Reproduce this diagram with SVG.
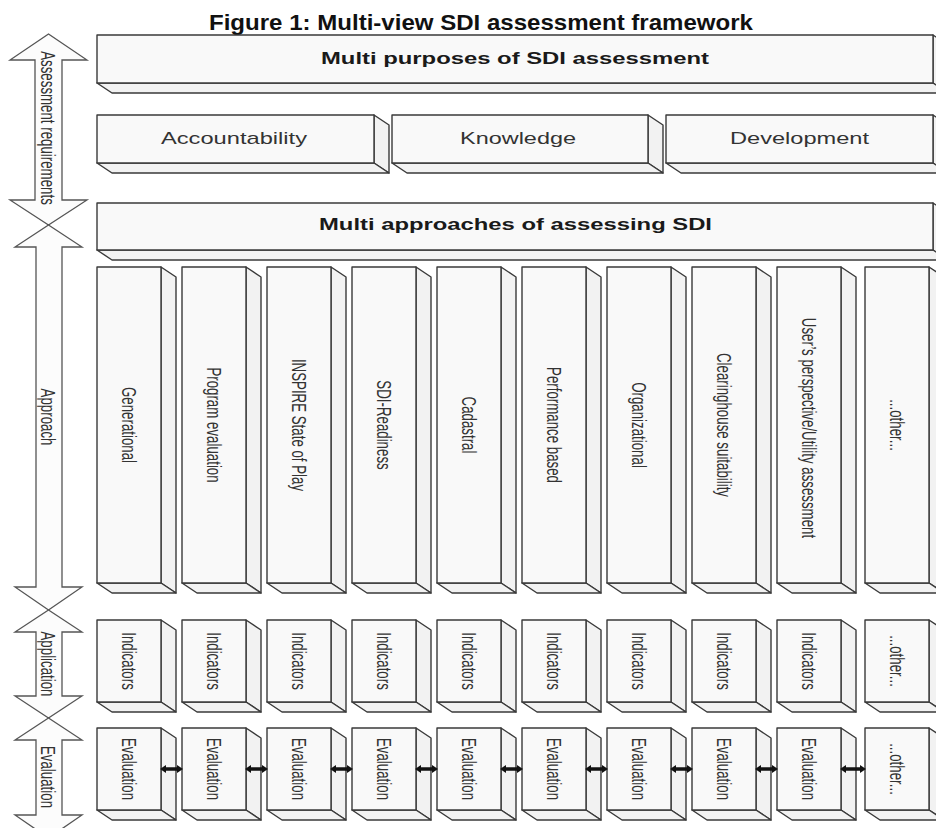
<svg xmlns="http://www.w3.org/2000/svg" xmlns:xlink="http://www.w3.org/1999/xlink" width="936" height="828" viewBox="0 0 936 828">
<style>
.face{fill:#f9f9f9;stroke:#3a3a3a;stroke-width:1.4;stroke-linejoin:round}
.side{fill:#f2f2f2;stroke:#3a3a3a;stroke-width:1.4;stroke-linejoin:round}
.arr{fill:#fcfcfc;stroke:#555;stroke-width:1.3;stroke-linejoin:miter}
.lbl{font-family:"Liberation Sans",Arial,sans-serif;font-size:20px;fill:#333;text-anchor:middle}
.row{font-family:"Liberation Sans",Arial,sans-serif;font-size:17px;fill:#333}
.hdr{font-family:"Liberation Sans",Arial,sans-serif;font-size:16px;font-weight:bold;fill:#1a1a1a}
.title{font-family:"Liberation Sans",Arial,sans-serif;font-size:22px;font-weight:bold;fill:#111}
.conn{stroke:#111;stroke-width:3.5;fill:none}
</style>
<defs>
<marker id="ah" viewBox="0 0 6 8" refX="0" refY="4" markerWidth="6" markerHeight="8" markerUnits="userSpaceOnUse" orient="auto-start-reverse"><path d="M0,0 L6,4 L0,8 z" fill="#111"/></marker>
<g id="colTall">
<polygon class="side" points="64,0 79,10 79,326 64,316"/>
<polygon class="side" points="0,316 64,316 79,326 15,326"/>
<rect class="face" x="0" y="0" width="64" height="316"/>
</g>
<g id="colShort">
<polygon class="side" points="64,0 79,10 79,92 64,82"/>
<polygon class="side" points="0,82 64,82 79,92 15,92"/>
<rect class="face" x="0" y="0" width="64" height="82"/>
</g>
</defs>
<rect width="936" height="828" fill="#ffffff"/>

<text class="title" x="209" y="30" textLength="544" lengthAdjust="spacingAndGlyphs">Figure 1: Multi-view SDI assessment framework</text>

<!-- left double arrows -->
<g id="arrow-requirements">
<polygon class="arr" points="48.5,34 87,60 62,60 62,200 87,200 48.5,225 10,200 35,200 35,60 10,60"/>
<text class="lbl" transform="translate(41,128) rotate(90) scale(0.665,1)">Assessment requirements</text>
</g>
<g id="arrow-approach">
<polygon class="arr" points="48.5,225 82,247 62,247 62,587 82,587 48.5,610 15,587 36,587 36,247 15,247"/>
<text class="lbl" transform="translate(41,417) rotate(90) scale(0.665,1)">Approach</text>
</g>
<g id="arrow-application">
<polygon class="arr" points="48.5,610 82,632 62,632 62,696 82,696 48.5,718 15,696 36,696 36,632 15,632"/>
<text class="lbl" transform="translate(41,664) rotate(90) scale(0.665,1)">Application</text>
</g>
<g id="arrow-evaluation">
<polygon class="arr" points="48.5,718 82,740 62,740 62,815 82,815 48.5,838 15,815 36,815 36,740 15,740"/>
<text class="lbl" transform="translate(41,777) rotate(90) scale(0.665,1)">Evaluation</text>
</g>

<!-- wide boxes -->
<g id="purposes">
<polygon class="side" points="933,35 948,45 948,93 933,83"/>
<polygon class="side" points="97,83 933,83 948,93 112,93"/>
<rect class="face" x="97" y="35" width="836" height="48"/>
<text class="hdr" x="321" y="64" textLength="388" lengthAdjust="spacingAndGlyphs">Multi purposes of SDI assessment</text>
</g>
<g id="accountability">
<polygon class="side" points="374,115 389,125 389,173 374,163"/>
<polygon class="side" points="97,163 374,163 389,173 112,173"/>
<rect class="face" x="97" y="115" width="277" height="48"/>
<text class="row" x="161" y="144" textLength="146" lengthAdjust="spacingAndGlyphs">Accountability</text>
</g>
<g id="knowledge">
<polygon class="side" points="648,115 663,125 663,173 648,163"/>
<polygon class="side" points="392,163 648,163 663,173 407,173"/>
<rect class="face" x="392" y="115" width="256" height="48"/>
<text class="row" x="460" y="144" textLength="116" lengthAdjust="spacingAndGlyphs">Knowledge</text>
</g>
<g id="development">
<polygon class="side" points="933,115 948,125 948,173 933,163"/>
<polygon class="side" points="666,163 933,163 948,173 681,173"/>
<rect class="face" x="666" y="115" width="267" height="48"/>
<text class="row" x="730" y="144" textLength="139" lengthAdjust="spacingAndGlyphs">Development</text>
</g>
<g id="approaches">
<polygon class="side" points="933,203 948,213 948,260 933,250"/>
<polygon class="side" points="97,250 933,250 948,260 112,260"/>
<rect class="face" x="97" y="203" width="836" height="47"/>
<text class="hdr" x="319" y="230" textLength="393" lengthAdjust="spacingAndGlyphs">Multi approaches of assessing SDI</text>
</g>

<!-- approach columns -->
<g id="ap-generational"><use xlink:href="#colTall" x="97" y="267"/><text class="lbl" transform="translate(122,425) rotate(90) scale(0.665,1)">Generational</text></g>
<g id="ap-program"><use xlink:href="#colTall" x="182" y="267"/><text class="lbl" transform="translate(207,425) rotate(90) scale(0.665,1)">Program evaluation</text></g>
<g id="ap-inspire"><use xlink:href="#colTall" x="267" y="267"/><text class="lbl" transform="translate(292,425) rotate(90) scale(0.665,1)">INSPIRE State of Play</text></g>
<g id="ap-readiness"><use xlink:href="#colTall" x="352" y="267"/><text class="lbl" transform="translate(377,425) rotate(90) scale(0.665,1)">SDI-Readiness</text></g>
<g id="ap-cadastral"><use xlink:href="#colTall" x="437" y="267"/><text class="lbl" transform="translate(462,425) rotate(90) scale(0.665,1)">Cadastral</text></g>
<g id="ap-performance"><use xlink:href="#colTall" x="522" y="267"/><text class="lbl" transform="translate(547,425) rotate(90) scale(0.665,1)">Performance based</text></g>
<g id="ap-organizational"><use xlink:href="#colTall" x="607" y="267"/><text class="lbl" transform="translate(632,425) rotate(90) scale(0.665,1)">Organizational</text></g>
<g id="ap-clearinghouse"><use xlink:href="#colTall" x="692" y="267"/><text class="lbl" transform="translate(717,425) rotate(90) scale(0.665,1)">Clearinghouse suitability</text></g>
<g id="ap-user"><use xlink:href="#colTall" x="777" y="267"/><text class="lbl" transform="translate(802,428) rotate(90) scale(0.665,1)">User’s perspective/Utility assessment</text></g>
<g id="ap-other"><use xlink:href="#colTall" x="865" y="267"/><text class="lbl" transform="translate(890,425) rotate(90) scale(0.665,1)">...other...</text></g>

<!-- indicators row -->
<g id="ind-1"><use xlink:href="#colShort" x="97" y="620"/><text class="lbl" transform="translate(122,661) rotate(90) scale(0.665,1)">Indicators</text></g>
<g id="ind-2"><use xlink:href="#colShort" x="182" y="620"/><text class="lbl" transform="translate(207,661) rotate(90) scale(0.665,1)">Indicators</text></g>
<g id="ind-3"><use xlink:href="#colShort" x="267" y="620"/><text class="lbl" transform="translate(292,661) rotate(90) scale(0.665,1)">Indicators</text></g>
<g id="ind-4"><use xlink:href="#colShort" x="352" y="620"/><text class="lbl" transform="translate(377,661) rotate(90) scale(0.665,1)">Indicators</text></g>
<g id="ind-5"><use xlink:href="#colShort" x="437" y="620"/><text class="lbl" transform="translate(462,661) rotate(90) scale(0.665,1)">Indicators</text></g>
<g id="ind-6"><use xlink:href="#colShort" x="522" y="620"/><text class="lbl" transform="translate(547,661) rotate(90) scale(0.665,1)">Indicators</text></g>
<g id="ind-7"><use xlink:href="#colShort" x="607" y="620"/><text class="lbl" transform="translate(632,661) rotate(90) scale(0.665,1)">Indicators</text></g>
<g id="ind-8"><use xlink:href="#colShort" x="692" y="620"/><text class="lbl" transform="translate(717,661) rotate(90) scale(0.665,1)">Indicators</text></g>
<g id="ind-9"><use xlink:href="#colShort" x="777" y="620"/><text class="lbl" transform="translate(802,661) rotate(90) scale(0.665,1)">Indicators</text></g>
<g id="ind-other"><use xlink:href="#colShort" x="865" y="620"/><text class="lbl" transform="translate(890,661) rotate(90) scale(0.665,1)">...other...</text></g>

<!-- evaluation row -->
<g id="eval-1"><use xlink:href="#colShort" x="97" y="728"/><text class="lbl" transform="translate(122,769) rotate(90) scale(0.665,1)">Evaluation</text></g>
<g id="eval-2"><use xlink:href="#colShort" x="182" y="728"/><text class="lbl" transform="translate(207,769) rotate(90) scale(0.665,1)">Evaluation</text></g>
<g id="eval-3"><use xlink:href="#colShort" x="267" y="728"/><text class="lbl" transform="translate(292,769) rotate(90) scale(0.665,1)">Evaluation</text></g>
<g id="eval-4"><use xlink:href="#colShort" x="352" y="728"/><text class="lbl" transform="translate(377,769) rotate(90) scale(0.665,1)">Evaluation</text></g>
<g id="eval-5"><use xlink:href="#colShort" x="437" y="728"/><text class="lbl" transform="translate(462,769) rotate(90) scale(0.665,1)">Evaluation</text></g>
<g id="eval-6"><use xlink:href="#colShort" x="522" y="728"/><text class="lbl" transform="translate(547,769) rotate(90) scale(0.665,1)">Evaluation</text></g>
<g id="eval-7"><use xlink:href="#colShort" x="607" y="728"/><text class="lbl" transform="translate(632,769) rotate(90) scale(0.665,1)">Evaluation</text></g>
<g id="eval-8"><use xlink:href="#colShort" x="692" y="728"/><text class="lbl" transform="translate(717,769) rotate(90) scale(0.665,1)">Evaluation</text></g>
<g id="eval-9"><use xlink:href="#colShort" x="777" y="728"/><text class="lbl" transform="translate(802,769) rotate(90) scale(0.665,1)">Evaluation</text></g>
<g id="eval-other"><use xlink:href="#colShort" x="865" y="728"/><text class="lbl" transform="translate(890,769) rotate(90) scale(0.665,1)">...other...</text></g>

<!-- connectors -->
<g id="connectors" class="conn" marker-start="url(#ah)" marker-end="url(#ah)">
<line x1="166" y1="769" x2="177" y2="769" marker-start="url(#ah)" marker-end="url(#ah)"/>
<line x1="251" y1="769" x2="262" y2="769" marker-start="url(#ah)" marker-end="url(#ah)"/>
<line x1="336" y1="769" x2="347" y2="769" marker-start="url(#ah)" marker-end="url(#ah)"/>
<line x1="421" y1="769" x2="432" y2="769" marker-start="url(#ah)" marker-end="url(#ah)"/>
<line x1="506" y1="769" x2="517" y2="769" marker-start="url(#ah)" marker-end="url(#ah)"/>
<line x1="591" y1="769" x2="602" y2="769" marker-start="url(#ah)" marker-end="url(#ah)"/>
<line x1="676" y1="769" x2="687" y2="769" marker-start="url(#ah)" marker-end="url(#ah)"/>
<line x1="761" y1="769" x2="772" y2="769" marker-start="url(#ah)" marker-end="url(#ah)"/>
<line x1="846" y1="769" x2="860" y2="769" marker-start="url(#ah)" marker-end="url(#ah)"/>
</g>
</svg>
